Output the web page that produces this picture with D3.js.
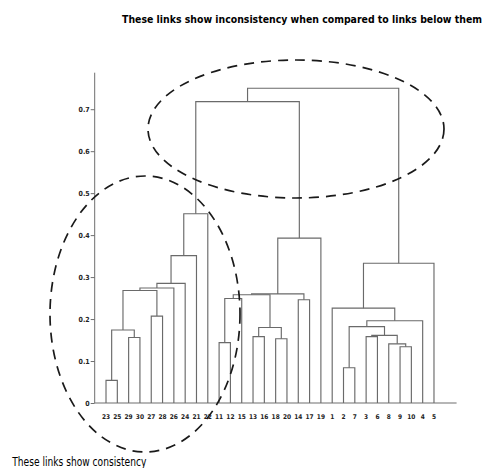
<!DOCTYPE html>
<html>
<head>
<meta charset="utf-8">
<script src="https://cdn.jsdelivr.net/npm/d3@7"></script>
<style>
  html, body { margin: 0; padding: 0; background: #fff; }
  svg { display: block; }
</style>
</head>
<body>
<svg id="chart" width="489" height="468"></svg>
<script>
// Leaf order along the bottom of the dendrogram
const leafLabels = [23, 25, 29, 30, 27, 28, 26, 24, 21, 22,
                    11, 12, 15, 13, 16, 18, 20, 14, 17, 19,
                    1, 2, 7, 3, 6, 8, 9, 10, 4, 5];

// Linkage: [id, left, right, height]; numbers are leaf labels, "cN" are clusters
const merges = [
  ["c1", 23, 25, 0.054],
  ["c2", 29, 30, 0.156],
  ["c3", "c1", "c2", 0.174],
  ["c4", 27, 28, 0.207],
  ["c5", "c3", "c4", 0.268],
  ["c6", "c5", 26, 0.274],
  ["c7", "c6", 24, 0.285],
  ["c8", "c7", 21, 0.351],
  ["c9", "c8", 22, 0.451],
  ["c10", 11, 12, 0.144],
  ["c11", "c10", 15, 0.249],
  ["c12", 13, 16, 0.158],
  ["c13", 18, 20, 0.153],
  ["c14", "c12", "c13", 0.180],
  ["c15", "c11", "c14", 0.258],
  ["c16", 14, 17, 0.246],
  ["c17", "c15", "c16", 0.260],
  ["c18", "c17", 19, 0.393],
  ["c19", "c9", "c18", 0.718],
  ["c20", 2, 7, 0.084],
  ["c21", 3, 6, 0.158],
  ["c22", 9, 10, 0.134],
  ["c23", 8, "c22", 0.141],
  ["c24", "c21", "c23", 0.161],
  ["c25", "c20", "c24", 0.182],
  ["c26", "c25", 4, 0.196],
  ["c27", 1, "c26", 0.226],
  ["c28", "c27", 5, 0.333],
  ["c29", "c19", "c28", 0.750]
];

const yTicks = [0, 0.1, 0.2, 0.3, 0.4, 0.5, 0.6, 0.7];
const yMax = 0.787;

const titleText = "These links show inconsistency when compared to links below them";
const footText = "These links show consistency";

// Build a nested tree from the linkage list
const nodes = new Map();
leafLabels.forEach(l => nodes.set(l, { name: String(l), height: 0 }));
merges.forEach(([id, a, b, h]) => {
  nodes.set(id, { name: id, height: h, children: [nodes.get(a), nodes.get(b)] });
});
const root = d3.hierarchy(nodes.get(merges[merges.length - 1][0]));

const svg = d3.select("#chart");
const x = d3.scaleLinear().domain([0, 32]).range([94.7, 456.6]);
const y = d3.scaleLinear().domain([0, yMax]).range([403, 72.7]);

// Leaf positions from the leaf order; internal nodes sit at the mean of their children
const leafIndex = new Map(leafLabels.map((l, i) => [String(l), i + 1]));
root.eachAfter(d => {
  d.px = d.children ? d3.mean(d.children, c => c.px) : leafIndex.get(d.data.name);
});

// Y axis
const yAxis = d3.axisLeft(y).tickValues(yTicks).tickSize(4).tickPadding(1)
  .tickFormat(d => d === 0 ? "0" : d3.format(".1f")(d));
const gy = svg.append("g").attr("transform", `translate(${x(0)},0)`).call(yAxis);
gy.select(".domain").attr("stroke", "#6e6e6e").attr("d", `M0,${y(0)}V${y(yMax)}`);
gy.selectAll(".tick line").attr("stroke", "#6e6e6e");
gy.selectAll(".tick text")
  .attr("fill", "#222")
  .style("font-family", "'DejaVu Sans Condensed', 'DejaVu Sans', sans-serif")
  .style("font-size", "7px")
  .style("font-weight", "bold");

// Baseline
svg.append("line")
  .attr("x1", x(0)).attr("x2", x(32))
  .attr("y1", y(0)).attr("y2", y(0))
  .attr("stroke", "#6e6e6e").attr("stroke-width", 1.2);

// Dendrogram links
svg.append("g")
  .selectAll("path")
  .data(root.descendants().filter(d => d.children))
  .join("path")
  .attr("fill", "none")
  .attr("stroke", "#6a6a6a")
  .attr("stroke-width", 1.15)
  .attr("d", d => {
    const [a, b] = d.children;
    return `M${x(a.px)},${y(a.data.height)}V${y(d.data.height)}H${x(b.px)}V${y(b.data.height)}`;
  });

// Leaf labels
svg.append("g")
  .selectAll("text")
  .data(leafLabels)
  .join("text")
  .attr("x", (d, i) => x(i + 1))
  .attr("y", y(0) + 16)
  .attr("text-anchor", "middle")
  .attr("fill", "#222")
  .style("font-family", "'DejaVu Sans Condensed', 'DejaVu Sans', sans-serif")
  .style("font-size", "6.5px")
  .style("font-weight", "bold")
  .text(d => d);

// Dashed ellipses marking the two groups of links
const ellipses = [
  { cx: 296, cy: 129, rx: 148, ry: 69 },
  { cx: 145, cy: 314, rx: 95, ry: 138 }
];
svg.append("g")
  .selectAll("ellipse")
  .data(ellipses)
  .join("ellipse")
  .attr("cx", d => d.cx).attr("cy", d => d.cy)
  .attr("rx", d => d.rx).attr("ry", d => d.ry)
  .attr("fill", "none")
  .attr("stroke", "#1a1a1a")
  .attr("stroke-width", 1.7)
  .attr("stroke-dasharray", "10,7");

// Annotations
svg.append("text")
  .attr("x", 122).attr("y", 22.5)
  .attr("textLength", 360).attr("lengthAdjust", "spacingAndGlyphs")
  .style("font-family", "'DejaVu Sans Condensed', 'DejaVu Sans', sans-serif")
  .style("font-size", "10.3px")
  .style("font-weight", "bold")
  .attr("fill", "#000")
  .text(titleText);

svg.append("text")
  .attr("x", 12.3).attr("y", 466)
  .attr("textLength", 134).attr("lengthAdjust", "spacingAndGlyphs")
  .style("font-family", "'DejaVu Sans Condensed', 'DejaVu Sans', sans-serif")
  .style("font-size", "12.5px")
  .attr("fill", "#000")
  .text(footText);
</script>
</body>
</html>
